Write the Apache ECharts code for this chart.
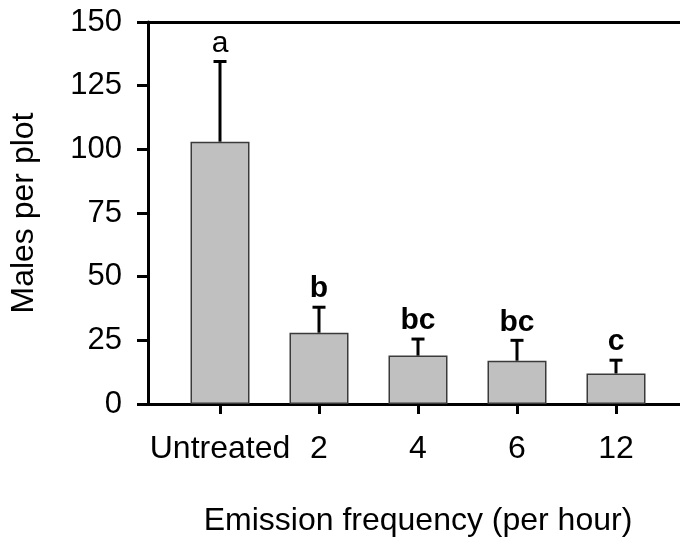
<!DOCTYPE html>
<html>
<head>
<meta charset="utf-8">
<script src="https://cdn.jsdelivr.net/npm/echarts@6/dist/echarts.min.js"></script>
<style>
    html, body { margin: 0; padding: 0; background: #fff; }
    #chart { width: 680px; height: 542px; }
</style>
</head>
<body>
<div id="chart"></div>
<script>
/*---------------------------------------- data ---------------------------------------------*/
var categories = ['Untreated', '2', '4', '6', '12'];
var males = [103, 28, 19, 17, 12];
var errors = [31.5, 10, 6.5, 8, 5.2];
var letters = ['a', 'b', 'bc', 'bc', 'c'];
var boldLetters = [false, true, true, true, true];
var yTicks = [0, 25, 50, 75, 100, 125, 150];

var FONT = "'Liberation Sans', Arial, sans-serif";
var chart = echarts.init(document.getElementById('chart'));

var errData = [];
for (var i = 0; i < categories.length; i++) {
    errData.push([i, males[i], males[i] + errors[i]]);
}

/**
 * error bar + letter above it
 */
function renderError(params, api) {
    var idx = params.dataIndex;
    var base = api.coord([api.value(0), api.value(1)]);
    var top = api.coord([api.value(0), api.value(2)]);
    var cap = 6.5;
    return {
        type: 'group',
        children: [
            {
                type: 'line',
                shape: {x1: base[0], y1: base[1], x2: base[0], y2: top[1]},
                style: {stroke: '#000', lineWidth: 3}
            },
            {
                type: 'line',
                shape: {x1: base[0] - cap, y1: top[1], x2: base[0] + cap, y2: top[1]},
                style: {stroke: '#000', lineWidth: 3}
            },
            {
                type: 'text',
                x: base[0],
                y: top[1] - 3,
                style: {
                    text: letters[idx],
                    align: 'center',
                    verticalAlign: 'bottom',
                    fontSize: 30,
                    fontFamily: FONT,
                    fontWeight: boldLetters[idx] ? 'bold' : 'normal',
                    fill: '#000'
                }
            }
        ]
    };
}

var option = {
    backgroundColor: '#fff',
    animation: false,
    grid: [
        {left: 146, right: 0, top: 22, bottom: 138},
        {left: 170.5, right: 14.5, top: 22, bottom: 138}
    ],
    xAxis: [
        {
            gridIndex: 0, type: 'value', min: 0, max: 1, position: 'bottom',
            axisLine: {show: true, lineStyle: {color: '#000', width: 3}},
            axisTick: {show: false}, axisLabel: {show: false}, splitLine: {show: false}
        },
        {
            gridIndex: 0, type: 'value', min: 0, max: 1, position: 'top',
            axisLine: {show: true, lineStyle: {color: '#000', width: 3}},
            axisTick: {show: false}, axisLabel: {show: false}, splitLine: {show: false}
        },
        {
            gridIndex: 1, type: 'category', data: categories, position: 'bottom',
            name: 'Emission frequency (per hour)',
            nameLocation: 'middle',
            nameGap: 101,
            nameTextStyle: {fontSize: 32, fontFamily: FONT, color: '#000'},
            axisLine: {show: false},
            axisTick: {show: true, alignWithLabel: true, length: 10, lineStyle: {color: '#000', width: 3}},
            axisLabel: {fontSize: 32, fontFamily: FONT, color: '#000', margin: 29, interval: 0},
            splitLine: {show: false}
        }
    ],
    yAxis: [
        {
            gridIndex: 0, type: 'value', min: yTicks[0], max: yTicks[yTicks.length - 1], interval: 25,
            name: 'Males per plot',
            nameLocation: 'middle',
            nameGap: 108,
            nameTextStyle: {fontSize: 32, fontFamily: FONT, color: '#000'},
            axisLine: {show: true, lineStyle: {color: '#000', width: 3}},
            axisTick: {show: true, length: 11, lineStyle: {color: '#000', width: 3}},
            axisLabel: {fontSize: 31, fontFamily: FONT, color: '#000', margin: 26},
            splitLine: {show: false}
        },
        {
            gridIndex: 1, type: 'value', min: yTicks[0], max: yTicks[yTicks.length - 1],
            show: false
        }
    ],
    series: [
        {
            type: 'bar',
            xAxisIndex: 2,
            yAxisIndex: 1,
            data: males,
            barWidth: 59,
            itemStyle: {color: '#c0c0c0', borderColor: '#3a3a3a', borderWidth: 1.5}
        },
        {
            type: 'custom',
            xAxisIndex: 2,
            yAxisIndex: 1,
            data: errData,
            renderItem: renderError,
            z: 5
        }
    ]
};
chart.setOption(option, true);
</script>
</body>
</html>
